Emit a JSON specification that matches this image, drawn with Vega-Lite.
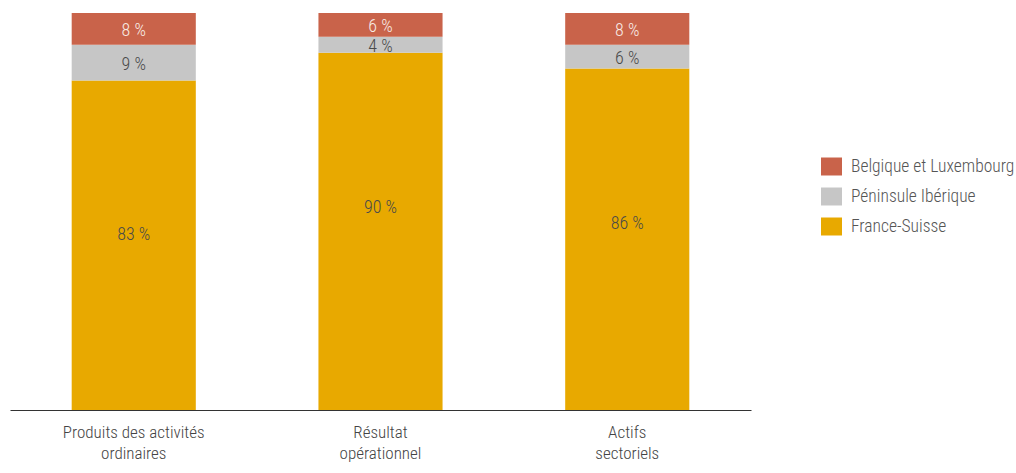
{
  "$schema": "https://vega.github.io/schema/vega-lite/v6.json",
  "autosize": "none",
  "padding": {"left": 10, "top": 13, "right": 265, "bottom": 63},
  "width": 741,
  "height": 397,
  "background": "white",
  "config": {
    "view": {"stroke": null},
    "font": "Roboto Condensed, Liberation Sans Narrow, Roboto, sans-serif"
  },
  "data": {
    "values": [
      {"cat": "Produits des activités ordinaires", "region": "France-Suisse", "order": 1, "value": 83},
      {"cat": "Produits des activités ordinaires", "region": "Péninsule Ibérique", "order": 2, "value": 9},
      {"cat": "Produits des activités ordinaires", "region": "Belgique et Luxembourg", "order": 3, "value": 8},
      {"cat": "Résultat opérationnel", "region": "France-Suisse", "order": 1, "value": 90},
      {"cat": "Résultat opérationnel", "region": "Péninsule Ibérique", "order": 2, "value": 4},
      {"cat": "Résultat opérationnel", "region": "Belgique et Luxembourg", "order": 3, "value": 6},
      {"cat": "Actifs sectoriels", "region": "France-Suisse", "order": 1, "value": 86},
      {"cat": "Actifs sectoriels", "region": "Péninsule Ibérique", "order": 2, "value": 6},
      {"cat": "Actifs sectoriels", "region": "Belgique et Luxembourg", "order": 3, "value": 8}
    ]
  },
  "transform": [
    {"stack": "value", "groupby": ["cat"], "sort": [{"field": "order", "order": "ascending"}], "as": ["v0", "v1"]},
    {"calculate": "(datum.v0 + datum.v1) / 2", "as": "vmid"},
    {"calculate": "datum.value + ' %'", "as": "lbl"}
  ],
  "encoding": {
    "x": {
      "field": "cat",
      "type": "nominal",
      "sort": ["Produits des activités ordinaires", "Résultat opérationnel", "Actifs sectoriels"],
      "scale": {"paddingInner": 0.497, "paddingOuter": 0.25},
      "axis": {
        "title": null,
        "labelAngle": 0,
        "ticks": false,
        "domainColor": "#333333",
        "domainWidth": 1.2,
        "labelFontSize": 17,
        "labelFontWeight": 300,
        "labelColor": "#444444",
        "labelPadding": 22,
        "labelLineHeight": 21,
        "labelBaseline": "middle",
        "labelExpr": "datum.label == 'Produits des activités ordinaires' ? ['Produits des activités', 'ordinaires'] : datum.label == 'Résultat opérationnel' ? ['Résultat', 'opérationnel'] : ['Actifs', 'sectoriels']"
      }
    }
  },
  "layer": [
    {
      "mark": {"type": "bar"},
      "encoding": {
        "y": {"field": "v0", "type": "quantitative", "scale": {"domain": [0, 100]}, "axis": null},
        "y2": {"field": "v1"},
        "color": {
          "field": "region",
          "type": "nominal",
          "scale": {
            "domain": ["Belgique et Luxembourg", "Péninsule Ibérique", "France-Suisse"],
            "range": ["#C9634A", "#C6C6C6", "#E8A900"]
          },
          "legend": {
            "title": null,
            "orient": "none",
            "legendX": 811,
            "legendY": 143,
            "padding": 0,
            "symbolType": "M-1,-0.857H1V0.857H-1Z",
            "symbolSize": 441,
            "symbolStrokeWidth": 0,
            "labelFontSize": 17.5,
            "labelFontWeight": 300,
            "labelColor": "#555555",
            "labelOffset": 9,
            "labelLimit": 300,
            "rowPadding": 10
          }
        }
      }
    },
    {
      "transform": [{"filter": "datum.region != 'France-Suisse'"}],
      "mark": {"type": "text", "fontSize": 18, "fontWeight": 300, "baseline": "middle", "align": "center", "dy": 2},
      "encoding": {
        "y": {"field": "vmid", "type": "quantitative"},
        "text": {"field": "lbl"},
        "color": {
          "condition": {"test": "datum.region == 'Belgique et Luxembourg'", "value": "#F8ECE6"},
          "value": "#4a4a4a"
        }
      }
    },
    {
      "transform": [{"filter": "datum.region == 'France-Suisse'"}],
      "mark": {"type": "text", "fontSize": 18, "fontWeight": 300, "baseline": "middle", "align": "center", "dy": 155, "color": "#4a4a4a"},
      "encoding": {
        "y": {"field": "v1", "type": "quantitative"},
        "text": {"field": "lbl"}
      }
    }
  ]
}
